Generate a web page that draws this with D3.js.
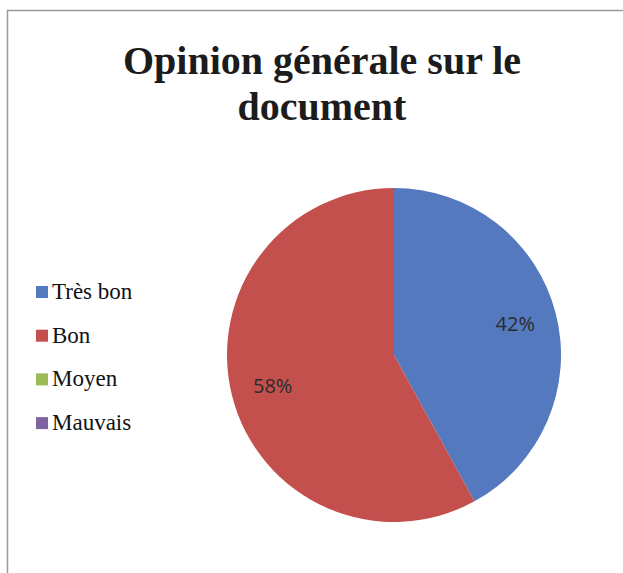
<!DOCTYPE html>
<html>
<head>
<meta charset="utf-8">
<script src="https://cdn.jsdelivr.net/npm/d3@7"></script>
<style>
  body { margin: 0; background: #fff; }
  svg text.ser { font-family: "Liberation Serif", serif !important; }
  svg text.san { font-family: "Open Sans", sans-serif !important; }
</style>
</head>
<body>
<div id="viz"></div>
<script>
var categories = ["Très bon", "Bon", "Moyen", "Mauvais"];
var values = [42, 58, 0, 0];
var colors = ["#5479bf", "#c4504e", "#9bbb59", "#8064a2"];
var titleLines = ["Opinion générale sur le", "document"];

var w = 623;
var h = 573;

var svg = d3.select("#viz")
  .append("svg")
  .attr("width", w)
  .attr("height", h);

// chart frame (runs off the right and bottom edge)
svg.append("rect")
  .attr("x", 7.5)
  .attr("y", 10.5)
  .attr("width", 640)
  .attr("height", 600)
  .attr("fill", "none")
  .attr("stroke", "#9a9a9a")
  .attr("stroke-width", 1.5);

// pie
var cx = 394, cy = 355, R = 167;
var color = d3.scaleOrdinal().domain(categories).range(colors);

var pie = d3.pie().sort(null).value(function(d) { return d.value; });
var data = categories.map(function(c, i) { return { name: c, value: values[i] }; });
var arcs = pie(data).filter(function(d) { return d.value > 0; });

var arc = d3.arc().innerRadius(0).outerRadius(R);
var labelArc = d3.arc().innerRadius(R * 0.75).outerRadius(R * 0.75);

svg.selectAll("path.slice")
  .data(arcs).enter()
  .append("path")
  .attr("class", "slice")
  .attr("transform", "translate(" + cx + "," + cy + ")")
  .attr("d", arc)
  .attr("fill", function(d) { return color(d.data.name); });

// legend swatches
svg.selectAll("rect.swatch")
  .data(categories).enter()
  .append("rect")
  .attr("class", "swatch")
  .attr("x", 36)
  .attr("y", function(d, i) { return 286 + i * 43.7; })
  .attr("width", 12)
  .attr("height", 12)
  .attr("fill", function(d) { return color(d); });

// title
titleLines.forEach(function(t, i) {
  svg.append("text")
    .attr("class", "ser")
    .attr("x", 322)
    .attr("y", 74 + i * 46)
    .attr("text-anchor", "middle")
    .style("font-family", "Liberation Serif", "important")
    .style("font-weight", "bold")
    .style("font-size", "40px")
    .attr("fill", "#1c1c1c")
    .text(t);
});

// slice labels
var total = d3.sum(values);
arcs.forEach(function(d) {
  var c = labelArc.centroid(d);
  svg.append("text")
    .attr("class", "san")
    .attr("x", cx + c[0])
    .attr("y", cy + c[1] + 7)
    .attr("text-anchor", "middle")
    .style("font-family", "Open Sans", "important")
    .style("font-size", "20px")
    .attr("fill", "#2b2b2b")
    .text(Math.round(d.value / total * 100) + "%");
});

// legend labels
categories.forEach(function(name, i) {
  svg.append("text")
    .attr("class", "ser")
    .attr("x", 52)
    .attr("y", 299 + i * 43.7)
    .style("font-family", "Liberation Serif", "important")
    .style("font-size", "23px")
    .attr("fill", "#111")
    .text(name);
});
</script>
</body>
</html>
